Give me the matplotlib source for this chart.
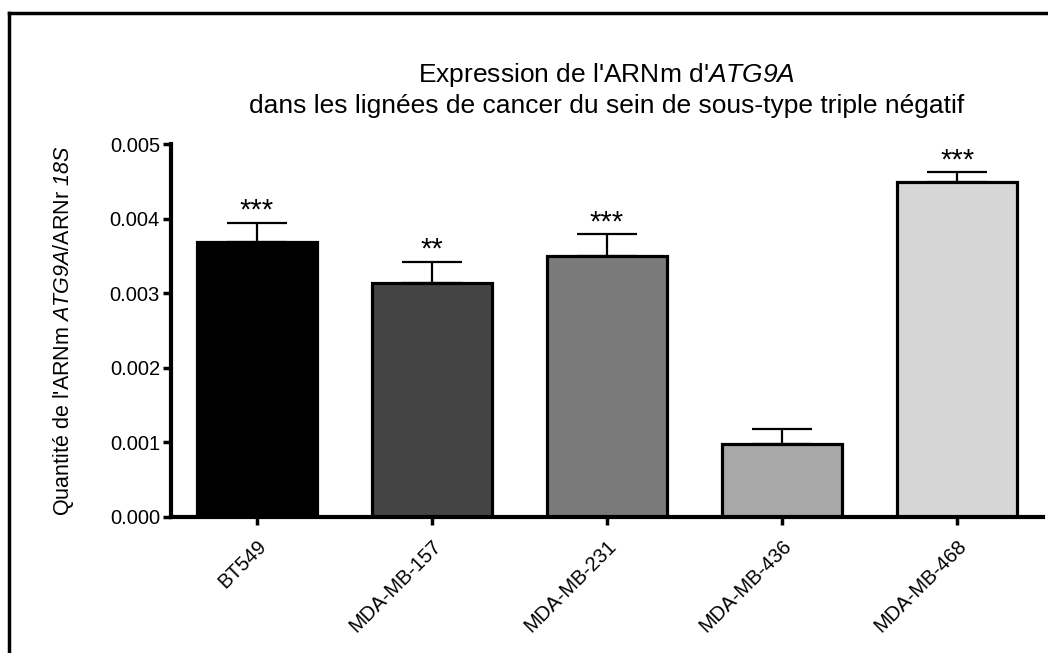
import numpy as np
import matplotlib
matplotlib.use('Agg')
import matplotlib.pyplot as plt
from matplotlib.lines import Line2D

plt.rcParams['font.family'] = ['Liberation Sans', 'DejaVu Sans']
plt.rcParams['mathtext.fontset'] = 'custom'
plt.rcParams['mathtext.rm'] = 'Liberation Sans'
# \mathsf sert pour l'italique (chiffres compris)
plt.rcParams['mathtext.sf'] = 'Liberation Sans:italic'

# données
lignees = ['BT549', 'MDA-MB-157', 'MDA-MB-231', 'MDA-MB-436', 'MDA-MB-468']
moyennes = [0.00369, 0.00314, 0.00350, 0.00098, 0.00449]
erreurs = [0.00025, 0.00028, 0.00029, 0.00020, 0.00013]
etoiles = ['***', '**', '***', '', '***']
couleurs = ['#000000', '#444444', '#7a7a7a', '#a8a8a8', '#d6d6d6']
yticks = [0.000, 0.001, 0.002, 0.003, 0.004, 0.005]

W, H = 1048, 653
fig = plt.figure(figsize=(W / 100, H / 100), dpi=100)
ax = fig.add_axes([171 / W, 1 - 517 / H, (1043 - 171) / W, (517 - 144) / H])

x = np.arange(len(lignees))
ax.bar(x, moyennes, width=0.686, color=couleurs, edgecolor='black', linewidth=2.3, zorder=2)
ax.errorbar(x, moyennes, yerr=[np.zeros(len(erreurs)), erreurs], fmt='none',
            ecolor='black', elinewidth=1.6, capsize=21.5, capthick=1.6, zorder=1)

for xi, m, e, s in zip(x, moyennes, erreurs, etoiles):
    if s:
        ax.annotate(s, (xi, m + e), xytext=(0, 3), textcoords='offset points',
                    ha='center', va='baseline', fontsize=21)

ax.set_xlim(-0.49, 4.49)
ax.set_ylim(0, 0.005)
ax.set_yticks(yticks)
ax.set_yticklabels(['%.3f' % v for v in yticks])
ax.set_xticks(x)
ax.set_xticklabels(lignees, rotation=45, ha='right', va='top', rotation_mode='anchor')

for side in ['top', 'right']:
    ax.spines[side].set_visible(False)
for side in ['left', 'bottom']:
    ax.spines[side].set_linewidth(3)
ax.tick_params(axis='both', width=2.5, length=6, labelsize=14.5, pad=2)
ax.tick_params(axis='x', pad=8)

ax.set_ylabel(r"Quantité de l'ARNm $\mathsf{ATG9A}$/ARNr $\mathsf{18S}$", fontsize=15.5, labelpad=24)
ax.set_title("Expression de l'ARNm d'$\\mathsf{ATG9A}$\n"
             "dans les lignées de cancer du sein de sous-type triple négatif",
             fontsize=19, pad=22, linespacing=1.3)

# cadre autour de l'image (coupé à droite et en bas)
fig.add_artist(Line2D([9 / W, 1.0], [1 - 13 / H, 1 - 13 / H], color='black', lw=2.5,
                      transform=fig.transFigure))
fig.add_artist(Line2D([9 / W, 9 / W], [0.0, 1 - 13 / H], color='black', lw=2.5,
                      transform=fig.transFigure))

fig.savefig('out.png', dpi=100)
